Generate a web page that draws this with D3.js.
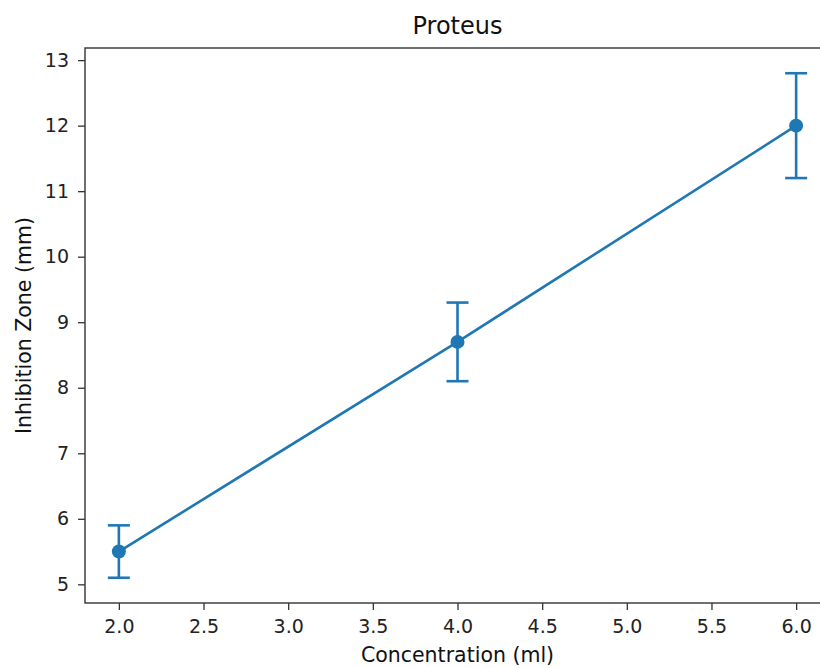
<!DOCTYPE html>
<html>
<head>
<meta charset="utf-8">
<script src="https://cdn.jsdelivr.net/npm/d3@7"></script>
<style>
  body { margin: 0; background: #fff; }
  svg { font-family: 'DejaVu Sans', sans-serif; }
</style>
</head>
<body>
<svg id="viz"></svg>
<script>
const concentration = [2, 4, 6];
const inhibition = [5.5, 8.7, 12.0];
const errors = [0.4, 0.6, 0.8];
const xTicks = [2.0, 2.5, 3.0, 3.5, 4.0, 4.5, 5.0, 5.5, 6.0];
const yTicks = [5, 6, 7, 8, 9, 10, 11, 12, 13];

const margin = { top: 48, right: -10, bottom: 65, left: 85 };
const totalW = 820, totalH = 668;
const width = totalW - margin.left - margin.right;
const height = totalH - margin.top - margin.bottom;
const color = '#1f77b4';

const svg = d3.select('#viz').attr('width', totalW).attr('height', totalH);
const g = svg.append('g').attr('transform', 'translate(' + margin.left + ',' + margin.top + ')');

let x = d3.scaleLinear().domain([1.8, 6.2]).range([0, width]);
let y = d3.scaleLinear().domain([4.715, 13.185]).range([height, 0]);

// AXES
const xAxis = g.append('g')
  .attr('transform', 'translate(0,' + height + ')')
  .call(d3.axisBottom(x).tickValues(xTicks).tickFormat(d3.format('.1f')).tickSize(7).tickPadding(10));
const yAxis = g.append('g')
  .call(d3.axisLeft(y).tickValues(yTicks).tickFormat(d3.format('d')).tickSize(7).tickPadding(9));

[xAxis, yAxis].forEach((a) => {
  a.select('.domain').remove();
  a.selectAll('.tick line').attr('stroke', '#333').attr('stroke-width', 1.3);
  a.selectAll('.tick text').attr('fill', '#222').style('font-size', '19px').style('font-family', 'DejaVu Sans');
});

// frame
g.append('rect')
  .attr('x', 0).attr('y', 0)
  .attr('width', width).attr('height', height)
  .attr('fill', 'none').attr('stroke', '#333').attr('stroke-width', 1.4);

// DATA
const pts = concentration.map((c, i) => ({ c: c, v: inhibition[i], e: errors[i] }));

g.append('path')
  .datum(pts)
  .attr('fill', 'none')
  .attr('stroke', color)
  .attr('stroke-width', 2.6)
  .attr('d', d3.line().x((d) => x(d.c)).y((d) => y(d.v)));

const eb = g.append('g').selectAll('g').data(pts).enter().append('g');
eb.append('line')
  .attr('x1', (d) => x(d.c)).attr('x2', (d) => x(d.c))
  .attr('y1', (d) => y(d.v - d.e)).attr('y2', (d) => y(d.v + d.e))
  .attr('stroke', color).attr('stroke-width', 2.6);
[-1, 1].forEach((s) => {
  eb.append('line')
    .attr('x1', (d) => x(d.c) - 11).attr('x2', (d) => x(d.c) + 11)
    .attr('y1', (d) => y(d.v + s * d.e)).attr('y2', (d) => y(d.v + s * d.e))
    .attr('stroke', color).attr('stroke-width', 2.6);
});

g.append('g').selectAll('circle').data(pts).enter().append('circle')
  .attr('cx', (d) => x(d.c))
  .attr('cy', (d) => y(d.v))
  .attr('r', 7)
  .attr('fill', color);

// LABELS
g.append('text')
  .attr('x', width / 2).attr('y', -14)
  .attr('text-anchor', 'middle')
  .style('font-size', '24px').attr('fill', '#111')
  .text('Proteus');
g.append('text')
  .attr('x', width / 2).attr('y', height + 59)
  .attr('text-anchor', 'middle')
  .style('font-size', '20.5px').attr('fill', '#111')
  .text('Concentration (ml)');
g.append('text')
  .attr('transform', 'rotate(-90)')
  .attr('x', -height / 2).attr('y', -54)
  .attr('text-anchor', 'middle')
  .style('font-size', '20.5px').attr('fill', '#111')
  .text('Inhibition Zone (mm)');
</script>
</body>
</html>
